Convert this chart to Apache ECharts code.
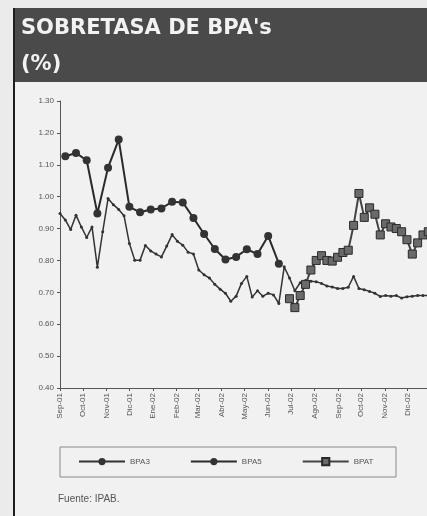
<!DOCTYPE html>
<html>
<head>
<meta charset="utf-8">
<title>Sobretasa de BPA's</title>
<script src="https://cdn.jsdelivr.net/npm/echarts@6/dist/echarts.min.js"></script>
<style>
  html, body { margin: 0; padding: 0; background: #ebebeb; }
  #myCharts { width: 427px; height: 516px; }
</style>
</head>
<body>
<div id="myCharts"></div>
<script>
// semanas a partir del 1-sep-2001
var startYear = 2001, startMonth = 8, startDay = 1;
var weekCount = 70;
var meses = ["Ene", "Feb", "Mar", "Abr", "May", "Jun", "Jul", "Ago", "Sep", "Oct", "Nov", "Dic"];

// sobretasa semanal (%)
var bpa3 = [
  0.947, 0.927, 0.897, 0.942, 0.905, 0.872, 0.905, 0.779, 0.89, 0.994,
  0.975, 0.96, 0.94, 0.853, 0.801, 0.801, 0.847, 0.83, 0.82, 0.811,
  0.845, 0.881, 0.86, 0.848, 0.826, 0.82, 0.77, 0.755, 0.745, 0.725,
  0.71, 0.697, 0.672, 0.688, 0.728, 0.75, 0.685, 0.705, 0.688, 0.697,
  0.692, 0.665, 0.78, 0.745, 0.705, 0.73, 0.737, 0.735, 0.733, 0.728,
  0.72, 0.717, 0.712, 0.712, 0.716, 0.75, 0.712, 0.708, 0.703, 0.697,
  0.687, 0.69, 0.688, 0.69, 0.682, 0.686, 0.688, 0.69, 0.69, 0.69
];
// BPA5 cada dos semanas (null = sin dato)
var bpa5 = [
  null, 1.127, null, 1.137, null, 1.114, null, 0.947, null, 1.091,
  null, 1.179, null, 0.968, null, 0.951, null, 0.96, null, 0.963,
  null, 0.984, null, 0.982, null, 0.933, null, 0.883, null, 0.836,
  null, 0.803, null, 0.811, null, 0.835, null, 0.82, null, 0.877,
  null, 0.79, null, null, null, null, null, null, null, null,
  null, null, null, null, null, null, null, null, null, null,
  null, null, null, null, null, null, null, null, null, null
];
var bpat = [
  null, null, null, null, null, null, null, null, null, null,
  null, null, null, null, null, null, null, null, null, null,
  null, null, null, null, null, null, null, null, null, null,
  null, null, null, null, null, null, null, null, null, null,
  null, null, null, 0.68, 0.652, 0.69, 0.725, 0.77, 0.80, 0.815,
  0.80, 0.798, 0.81, 0.825, 0.832, 0.91, 1.01, 0.935, 0.965, 0.945,
  0.88, 0.915, 0.905, 0.90, 0.89, 0.865, 0.82, 0.855, 0.88, 0.89
];

var weeks = [];
for (var i = 0; i < weekCount; i++) {
  weeks.push(new Date(startYear, startMonth, startDay + 7 * i).getTime());
}
function pairs(values) {
  var out = [];
  for (var i = 0; i < values.length; i++) {
    if (values[i] !== null) out.push([weeks[i], values[i]]);
  }
  return out;
}

var myCharts = echarts.init(document.getElementById("myCharts"));
var DAY = 24 * 3600 * 1000;
var option = {
  animation: false,
  backgroundColor: "#ebebeb",
  textStyle: { fontFamily: "Liberation Sans, Arial, sans-serif" },
  graphic: [
    // panel y banda del titulo
    { type: "rect", shape: { x: 14, y: 82, width: 420, height: 440 }, style: { fill: "#f1f1f1" }, silent: true },
    { type: "rect", shape: { x: 14, y: 8, width: 420, height: 74 }, style: { fill: "#4a4a4a" }, silent: true },
    { type: "line", shape: { x1: 14, y1: 8, x2: 14, y2: 516 }, style: { stroke: "#1e1e1e", lineWidth: 2 }, silent: true },
    {
      type: "text", left: 21, top: 18,
      style: { text: "SOBRETASA DE BPA's", fill: "#f2f2f2", font: "bold 21px 'DejaVu Sans', sans-serif" }
    },
    {
      type: "text", left: 21, top: 54,
      style: { text: "(%)", fill: "#f2f2f2", font: "bold 21px 'DejaVu Sans', sans-serif" }
    },
    // recuadro de la leyenda
    { type: "rect", shape: { x: 60, y: 447, width: 336, height: 30 }, style: { fill: "none", stroke: "#8a8a8a", lineWidth: 1 }, silent: true },
    {
      type: "text", left: 58, top: 494,
      style: { text: "Fuente: IPAB.", fill: "#555", font: "10px 'Liberation Sans', Arial, sans-serif" }
    }
  ],
  legend: {
    data: ["BPA3", "BPA5", "BPAT"],
    left: 78,
    top: 457,
    padding: 0,
    itemWidth: 46,
    itemHeight: 9,
    itemGap: 40,
    textStyle: { fontSize: 8, color: "#555" }
  },
  grid: {
    left: 60,
    top: 101,
    width: 395,
    height: 287,
    outerBoundsMode: "none"
  },
  xAxis: {
    type: "time",
    min: new Date(2001, 8, 1).getTime(),
    max: new Date(2003, 1, 1).getTime(),
    minInterval: 28 * DAY,
    maxInterval: 31 * DAY,
    axisLine: { lineStyle: { color: "#555", width: 1 } },
    axisTick: { show: true, length: 3, lineStyle: { color: "#555" } },
    splitLine: { show: false },
    axisLabel: {
      rotate: 90,
      fontSize: 8,
      color: "#555",
      margin: 5,
      hideOverlap: false,
      formatter: function (value) {
        var d = new Date(value);
        var yy = String(d.getFullYear()).slice(2);
        return meses[d.getMonth()] + "-" + yy;
      }
    }
  },
  yAxis: {
    type: "value",
    min: 0.4,
    max: 1.3,
    interval: 0.1,
    axisLine: { show: true, lineStyle: { color: "#555", width: 1 } },
    axisTick: { show: true, length: 3, lineStyle: { color: "#555" } },
    splitLine: { show: false },
    axisLabel: {
      fontSize: 8,
      color: "#555",
      margin: 6,
      formatter: function (v) { return v.toFixed(2); }
    }
  },
  series: [
    {
      name: "BPA3",
      type: "line",
      data: pairs(bpa3),
      symbol: "circle",
      symbolSize: 3,
      lineStyle: { color: "#333", width: 1.5 },
      itemStyle: { color: "#333" }
    },
    {
      name: "BPA5",
      type: "line",
      data: pairs(bpa5),
      symbol: "circle",
      symbolSize: 8,
      lineStyle: { color: "#2a2a2a", width: 2 },
      itemStyle: { color: "#333" }
    },
    {
      name: "BPAT",
      type: "line",
      data: pairs(bpat),
      symbol: "rect",
      symbolSize: 8,
      lineStyle: { color: "#444", width: 2 },
      itemStyle: { color: "#6a6a6a", borderColor: "#2a2a2a", borderWidth: 1 }
    }
  ]
};
myCharts.setOption(option);
</script>
</body>
</html>
